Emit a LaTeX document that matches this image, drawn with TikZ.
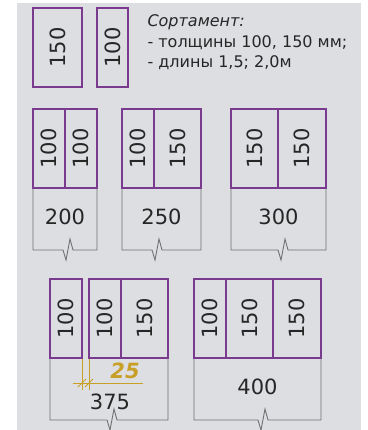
\documentclass[tikz,border=0pt]{standalone}
\usepackage{fontspec}
\setmainfont{DejaVu Sans}
\definecolor{bg}{RGB}{221,222,226}
\definecolor{beamc}{RGB}{122,58,142}
\definecolor{wallc}{RGB}{112,112,112}
\definecolor{dimc}{RGB}{200,160,40}
\tikzset{
  beam/.style={draw=beamc, line width=1.2pt},
  wall/.style={draw=wallc, line width=0.9pt},
  size/.style={rotate=90, font=\fontsize{21}{21}\selectfont, text=black!85},
  width/.style={font=\fontsize{21}{21}\selectfont, text=black!85},
  note/.style={anchor=west, font=\fontsize{16}{16}\selectfont, text=black!85},
  dim/.style={draw=dimc, line width=0.8pt}
}
\newcommand{\breakline}[5]{% x1, x2, top, bottom, break x
  \draw[wall] (#1,#3) -- (#1,#4) -- (#5-5,#4) -- (#5-2,#4+10) -- (#5+2,#4-11) -- (#5+5,#4) -- (#2,#4) -- (#2,#3);
}
\begin{document}
\begin{tikzpicture}[x=1pt, y=-1pt]
  \useasboundingbox (0,0) rectangle (367,430);
  \fill[bg] (17,3) rectangle (361,430);

  % assortment
  \draw[beam] (33,8) rectangle (82,87);
  \node[size] (s150) at (57.5,47.5) {150};
  \draw[beam] (97,8) rectangle (128,87);
  \node[size] (s100) at (112.5,47.5) {100};
  \node[note, font=\fontsize{16}{16}\selectfont\itshape] (note1) at (144,22) {Сортамент:};
  \node[note] (note2) at (144,43) {- толщины 100, 150 мм;};
  \node[note] (note3) at (144,63) {- длины 1,5; 2,0м};

  % 200
  \breakline{33}{97}{188}{250}{68}
  \draw[beam] (33,109) rectangle (97,188);
  \draw[beam] (65,109) -- (65,188);
  \node[size] (a1) at (49,148.5) {100};
  \node[size] (a2) at (81,148.5) {100};
  \node[width] (w200) at (65,217) {200};

  % 250
  \breakline{122}{201}{188}{250}{157}
  \draw[beam] (122,109) rectangle (201,188);
  \draw[beam] (154,109) -- (154,188);
  \node[size] (b1) at (138,148.5) {100};
  \node[size] (b2) at (177.5,148.5) {150};
  \node[width] (w250) at (161.5,217) {250};

  % 300
  \breakline{231}{326}{188}{250}{283}
  \draw[beam] (231,109) rectangle (326,188);
  \draw[beam] (278,109) -- (278,188);
  \node[size] (c1) at (254.5,148.5) {150};
  \node[size] (c2) at (302,148.5) {150};
  \node[width] (w300) at (278.5,217) {300};

  % 375
  \breakline{50}{168}{358}{420}{112}
  \draw[beam] (50,279) rectangle (82,358);
  \draw[beam] (89,279) rectangle (168,358);
  \draw[beam] (121,279) -- (121,358);
  \node[size] (d1) at (66,318.5) {100};
  \node[size] (d2) at (105,318.5) {100};
  \node[size] (d3) at (144.5,318.5) {150};
  \node[width] (w375) at (110,402) {375};
  \draw[dim] (82,359) -- (82,390);
  \draw[dim] (89,359) -- (89,390);
  \draw[dim] (73,383) -- (143,383);
  \draw[dim] (78,387) -- (86,379);
  \draw[dim] (85,387) -- (93,379);
  \node[font=\fontsize{21}{21}\selectfont\bfseries\itshape, text=dimc] (gap) at (125,371) {25};

  % 400
  \breakline{194}{321}{358}{420}{263}
  \draw[beam] (194,279) rectangle (321,358);
  \draw[beam] (226,279) -- (226,358);
  \draw[beam] (273,279) -- (273,358);
  \node[size] (e1) at (210,318.5) {100};
  \node[size] (e2) at (249.5,318.5) {150};
  \node[size] (e3) at (297,318.5) {150};
  \node[width] (w400) at (257.5,387) {400};
\end{tikzpicture}
\end{document}
